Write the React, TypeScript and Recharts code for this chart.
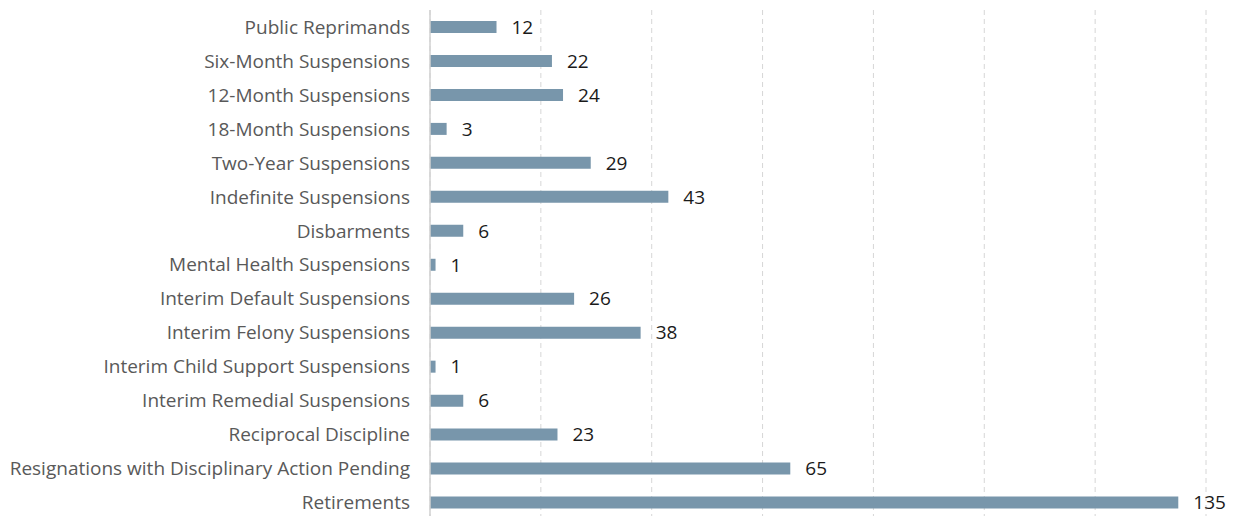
import React from "react";
import { BarChart, Bar, XAxis, YAxis, CartesianGrid, LabelList } from "recharts";

const categories = [
  "Public Reprimands",
  "Six-Month Suspensions",
  "12-Month Suspensions",
  "18-Month Suspensions",
  "Two-Year Suspensions",
  "Indefinite Suspensions",
  "Disbarments",
  "Mental Health Suspensions",
  "Interim Default Suspensions",
  "Interim Felony Suspensions",
  "Interim Child Support Suspensions",
  "Interim Remedial Suspensions",
  "Reciprocal Discipline",
  "Resignations with Disciplinary Action Pending",
  "Retirements",
];
const counts = [12, 22, 24, 3, 29, 43, 6, 1, 26, 38, 1, 6, 23, 65, 135];
const xTicks = [0, 20, 40, 60, 80, 100, 120, 140];

const data = categories.map((name, i) => ({ name, value: counts[i] }));

const FONT = "'Open Sans', sans-serif";

export default function App() {
  return (
    <div style={{ width: 1235, height: 508, overflow: "hidden" }}>
      <BarChart
        width={1235}
        height={519.5}
        data={data}
        layout="vertical"
        margin={{ top: 2, right: 37, bottom: 8, left: 0 }}
        barCategoryGap={0}
      >
        <CartesianGrid horizontal={false} stroke="#d6d6d6" strokeDasharray="5 4" />
        <XAxis type="number" domain={[0, 140]} ticks={xTicks} hide />
        <YAxis
          type="category"
          dataKey="name"
          width={422}
          tickLine={false}
          tickSize={10}
          tickMargin={10}
          axisLine={{ stroke: "#d0d0d0", strokeWidth: 1.5 }}
          tick={{ fill: "#595959", fontSize: 19, fontFamily: FONT }}
          interval={0}
        />
        <Bar dataKey="value" fill="#7896ab" barSize={12} isAnimationActive={false}>
          <LabelList
            dataKey="value"
            position="right"
            offset={15}
            style={{ fill: "#1a1a1a", fontSize: 19, fontFamily: FONT }}
          />
        </Bar>
      </BarChart>
    </div>
  );
}
